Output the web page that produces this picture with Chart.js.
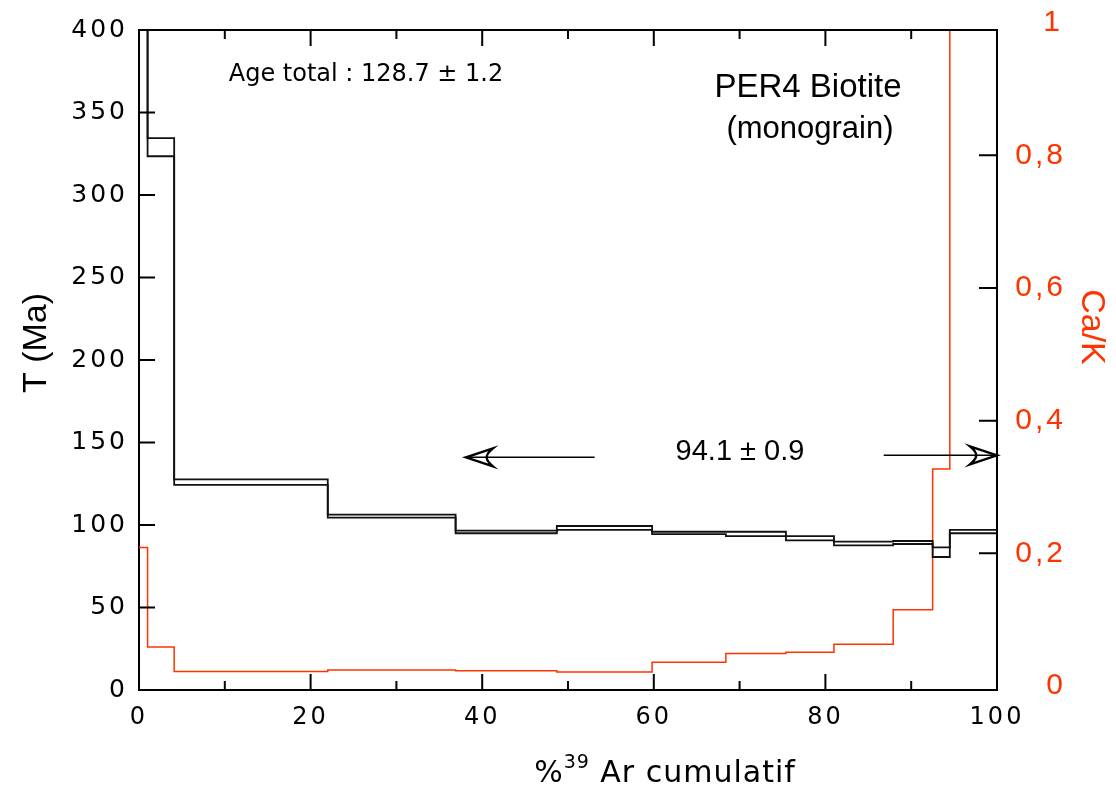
<!DOCTYPE html>
<html>
<head>
<meta charset="utf-8">
<script src="https://cdn.jsdelivr.net/npm/chart.js@4.4.1/dist/chart.umd.min.js"></script>
<style>
  body { margin: 0; background: #fff; }
  #chart { display: block; }
</style>
</head>
<body>
<canvas id="chart" width="1116" height="791"></canvas>
<script>
// cumulative %39Ar at the step boundaries
const stepEdges = [0, 1.0, 4.1, 22.0, 36.9, 48.7, 59.8, 68.4, 75.4, 81.0, 87.9, 92.5, 94.5, 100];
// apparent age (Ma) and 1-sigma error per step (first step is off scale)
const ageMa  = [600, 329.0, 126.0, 105.4, 95.8, 98.2, 95.2, 94.6, 92.0, 88.8, 89.4, 83.5, 96.0];
const ageErr = [10,    5.5,   1.7,   0.9,  0.8,  1.2,  0.7,  1.3,  1.3,  1.1,  0.9,  2.9,  1.0];
// Ca/K per step (last step is off scale)
const caK = [0.209, 0.059, 0.022, 0.024, 0.023, 0.021, 0.036, 0.049, 0.051, 0.063, 0.115, 0.327, 1.5];

const xTicks = [0, 20, 40, 60, 80, 100];
const ageTicks = [0, 50, 100, 150, 200, 250, 300, 350, 400];
const caKTicks = [0, 0.2, 0.4, 0.6, 0.8];

const RED = '#ff3300';

function steps(edges, vals) {
    const pts = vals.map((v, i) => ({x: edges[i], y: v}));
    pts.push({x: edges[edges.length - 1], y: vals[vals.length - 1]});
    return pts;
}

function arrow(ctx, x0, x1, y) {
    const d = Math.sign(x1 - x0);
    ctx.lineWidth = 1.5;
    ctx.beginPath();
    ctx.moveTo(x0, y);
    ctx.lineTo(x1 - d * 4, y);
    ctx.stroke();
    ctx.lineWidth = 2.5;
    ctx.lineJoin = 'miter';
    ctx.beginPath();
    ctx.moveTo(x1, y);
    ctx.lineTo(x1 - d * 27, y - 9);
    ctx.quadraticCurveTo(x1 - d * 20, y - 3, x1 - d * 21, y);
    ctx.quadraticCurveTo(x1 - d * 20, y + 3, x1 - d * 27, y + 9);
    ctx.closePath();
    ctx.stroke();
}

const decor = {
    id: 'decor',
    beforeDraw(chart) {
        chart.ctx.letterSpacing = '3px';
    },
    beforeDatasetsDraw(chart) {
        chart.ctx.letterSpacing = '0px';
    },
    afterDraw(chart) {
        const ctx = chart.ctx;
        const a = chart.chartArea;
        const sx = chart.scales.x, sy = chart.scales.y, sr = chart.scales.y1;
        ctx.save();
        ctx.letterSpacing = '0px';
        ctx.strokeStyle = '#000';
        ctx.lineWidth = 2;
        // top of the frame
        ctx.beginPath();
        ctx.moveTo(a.left - 1, a.top);
        ctx.lineTo(a.right + 1, a.top);
        ctx.stroke();
        // inward tick marks
        ctx.beginPath();
        for (let v = 0; v <= 100; v += 10) {
            const px = sx.getPixelForValue(v);
            const len = v % 20 === 0 ? 16 : 9;
            ctx.moveTo(px, a.bottom); ctx.lineTo(px, a.bottom - len);
            ctx.moveTo(px, a.top); ctx.lineTo(px, a.top + len);
        }
        ageTicks.forEach(v => {
            const py = sy.getPixelForValue(v);
            ctx.moveTo(a.left, py); ctx.lineTo(a.left + 16, py);
        });
        caKTicks.slice(1).forEach(v => {
            const py = sr.getPixelForValue(v);
            ctx.moveTo(a.right, py); ctx.lineTo(a.right - 18, py);
        });
        ctx.stroke();

        // "1" label on the Ca/K axis, just above the frame
        ctx.fillStyle = RED;
        ctx.font = '30px "Liberation Sans"';
        ctx.textAlign = 'right';
        ctx.textBaseline = 'middle';
        ctx.fillText('1', sr.right - 6, sr.getPixelForValue(1));

        // axis titles
        ctx.fillStyle = '#000';
        ctx.font = '34px "Liberation Sans"';
        ctx.textAlign = 'center';
        ctx.save();
        ctx.translate(37, 343);
        ctx.rotate(-Math.PI / 2);
        ctx.fillText('T (Ma)', 0, 0);
        ctx.restore();
        ctx.fillStyle = RED;
        ctx.save();
        ctx.translate(1091, 327);
        ctx.rotate(Math.PI / 2);
        ctx.fillText('Ca/K', 0, 0);
        ctx.restore();

        // x title with superscript 39
        ctx.fillStyle = '#000';
        ctx.textAlign = 'left';
        ctx.textBaseline = 'alphabetic';
        ctx.letterSpacing = '1px';
        const big = '30px "DejaVu Sans"', small = '19px "DejaVu Sans"';
        ctx.font = big;
        const wPct = ctx.measureText('%').width;
        const wRest = ctx.measureText(' Ar cumulatif').width;
        ctx.font = small;
        const wSup = ctx.measureText('39').width;
        let tx = 665 - (wPct + wSup + wRest) / 2;
        const base = 782;
        ctx.font = big;
        ctx.fillText('%', tx, base);
        tx += wPct;
        ctx.font = small;
        ctx.fillText('39', tx, base - 14);
        tx += wSup;
        ctx.font = big;
        ctx.fillText(' Ar cumulatif', tx, base);
        ctx.letterSpacing = '0px';

        // annotations
        ctx.textAlign = 'center';
        ctx.textBaseline = 'middle';
        ctx.font = '24px "DejaVu Sans"';
        ctx.fillText('Age total : 128.7 \u00b1 1.2', 366, 75);
        ctx.font = '33px "Liberation Sans"';
        ctx.fillText('PER4 Biotite', 808, 88);
        ctx.font = '31px "Liberation Sans"';
        ctx.fillText('(monograin)', 810, 129);
        ctx.font = '29px "Liberation Sans"';
        ctx.fillText('94.1 \u00b1 0.9', 740, 452);

        // plateau arrows
        ctx.strokeStyle = '#000';
        const ay = sy.getPixelForValue(141);
        arrow(ctx, sx.getPixelForValue(53.1), sx.getPixelForValue(38.1), ay);
        arrow(ctx, sx.getPixelForValue(86.8), sx.getPixelForValue(100), ay - 2);
        ctx.restore();
    }
};

const lineStyle = {
    stepped: 'before',
    pointRadius: 0,
    fill: false,
    borderWidth: 1.8,
    tension: 0
};

new Chart(document.getElementById('chart'), {
    type: 'line',
    data: {
        datasets: [
            Object.assign({
                label: 'age + err',
                data: steps(stepEdges, ageMa.map((v, i) => v + ageErr[i])),
                borderColor: '#111',
                yAxisID: 'y'
            }, lineStyle),
            Object.assign({
                label: 'age - err',
                data: steps(stepEdges, ageMa.map((v, i) => v - ageErr[i])),
                borderColor: '#111',
                yAxisID: 'y'
            }, lineStyle),
            Object.assign({
                label: 'Ca/K',
                data: steps(stepEdges, caK),
                borderColor: RED,
                yAxisID: 'y1'
            }, lineStyle, { borderWidth: 1.5 })
        ]
    },
    options: {
        responsive: false,
        animation: false,
        layout: { padding: { top: 30, right: 50, left: 0, bottom: 0 } },
        plugins: {
            legend: { display: false },
            tooltip: { enabled: false }
        },
        scales: {
            x: {
                type: 'linear',
                min: 0, max: 100,
                afterBuildTicks: s => { s.ticks = xTicks.map(v => ({value: v})); },
                afterFit: s => { s.height = 101; },
                grid: { display: false, drawTicks: false },
                border: { display: true, color: '#000', width: 2 },
                ticks: { color: '#000', padding: 13, maxRotation: 0,
                         font: { family: 'DejaVu Sans', size: 24 } }
            },
            y: {
                position: 'left',
                min: 0, max: 400,
                afterBuildTicks: s => { s.ticks = ageTicks.map(v => ({value: v})); },
                afterFit: s => { s.width = 139; },
                grid: { display: false, drawTicks: false },
                border: { display: true, color: '#000', width: 2 },
                ticks: { color: '#000', padding: 11,
                         font: { family: 'DejaVu Sans', size: 25 } }
            },
            y1: {
                position: 'right',
                min: -0.006, max: 0.989,
                afterBuildTicks: s => { s.ticks = caKTicks.map(v => ({value: v})); },
                afterFit: s => { s.width = 69; },
                grid: { display: false, drawTicks: false },
                border: { display: true, color: '#000', width: 2 },
                ticks: { color: RED, padding: 0, crossAlign: 'far',
                         callback: v => v === 0 ? '0' : v.toFixed(1).replace('.', ','),
                         font: { family: 'Liberation Sans', size: 30 } }
            }
        }
    },
    plugins: [decor]
});
</script>
</body>
</html>
